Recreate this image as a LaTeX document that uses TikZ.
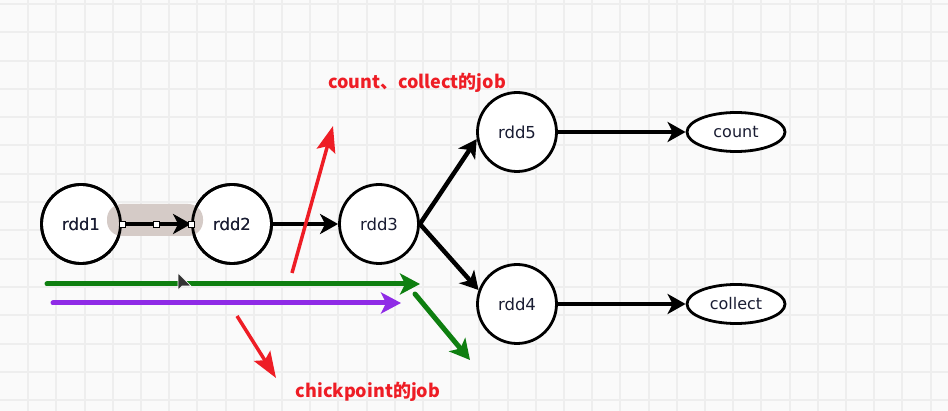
\documentclass[tikz,border=0pt]{standalone}
\usepackage{fontspec}
\setmainfont{DejaVu Sans}
\newfontfamily\cjk{Noto Sans CJK SC}
\usetikzlibrary{arrows.meta,shapes.geometric,calc}
\definecolor{bgc}{HTML}{FAFAFA}
\definecolor{gridc}{HTML}{EEEEEE}
\definecolor{redc}{HTML}{EE1D25}
\definecolor{greenc}{HTML}{0E7F10}
\definecolor{purplec}{HTML}{8F2BE6}
\definecolor{hlc}{HTML}{D5CBC7}
\definecolor{txtc}{HTML}{1A1D33}
\begin{document}
\begin{tikzpicture}[x=1pt,y=-1pt,
  rddnode/.style={circle,draw=black,line width=2.8pt,fill=white,minimum size=79pt,inner sep=0pt,
    text=txtc,font=\fontsize{16.5}{16.5}\selectfont},
  opnode/.style={ellipse,draw=black,line width=2.8pt,fill=white,minimum width=98pt,minimum height=39pt,inner sep=0pt,
    text=txtc,font=\fontsize{16}{16}\selectfont},
  blk/.style={draw=black,line width=4.5pt,-{Stealth[length=18pt,width=20pt,inset=5pt]}},
  grn/.style={draw=greenc,line width=5pt,line cap=round,-{Stealth[length=20pt,width=21pt,inset=5pt]}},
  prp/.style={draw=purplec,line width=5pt,line cap=round,-{Stealth[length=20pt,width=21pt,inset=5pt]}},
  redarr/.style={draw=redc,line width=3.5pt,-{Stealth[length=26pt,width=19pt,inset=5pt]}},
  handle/.style={draw=black,fill=white,line width=0.8pt,minimum size=6pt,inner sep=0pt,rectangle},
  redtxt/.style={text=redc,font=\cjk\bfseries\fontsize{18}{18}\selectfont},
  outline/.style={draw=black,line width=2.8pt}
]
\fill[bgc] (0,0) rectangle (948,411);
\useasboundingbox (0,0) rectangle (948,411);
\foreach \i in {1,...,33} \draw[gridc,line width=2pt] (\i*28.2,0) -- (\i*28.2,411);
\foreach \j in {0,...,14} \draw[gridc,line width=2pt] (0,4+\j*28.3) -- (948,4+\j*28.3);

% nodes
\node[rddnode] (rdd1) at (81,224) {rdd1};
\node[rddnode] (rdd2) at (232,224) {rdd2};
\node[rddnode] (rdd3) at (379,224) {rdd3};
\node[rddnode] (rdd5) at (517,132) {rdd5};
\node[rddnode] (rdd4) at (517,304) {rdd4};
\node[opnode] (count) at (736,132) {count};
\node[opnode] (collect) at (736,304) {collect};

% selection highlight
\fill[hlc,rounded corners=15pt] (107,204) rectangle (203,236);
\draw[outline] (rdd1.center) circle[radius=39.5pt];
\draw[outline] (rdd2.center) circle[radius=39.5pt];
\node[txtc,font=\fontsize{16.5}{16.5}\selectfont] (t1) at (rdd1.center) {rdd1};
\node[txtc,font=\fontsize{16.5}{16.5}\selectfont] (t2) at (rdd2.center) {rdd2};

% black connectors
\draw[blk] (rdd1) -- (rdd2);
\node[handle] (h1) at (rdd1.east) {};
\node[handle] (h2) at ($(rdd1.east)!0.5!(rdd2.west)$) {};
\node[handle] (h3) at (rdd2.west) {};
\draw[blk] (rdd2) -- (rdd3);
\draw[blk] (rdd3.east) -- (rdd5.190);
\draw[blk] (rdd3.east) -- (rdd4.160);
\draw[blk] (rdd5) -- (count);
\draw[blk] (rdd4) -- (collect);

% coloured annotation arrows
\coordinate (g1) at (47,284);
\coordinate (g2) at (420,284);
\coordinate (g3) at (415,294);
\coordinate (g4) at (470,360);
\coordinate (p1) at (53,303);
\coordinate (p2) at (401,303);
\coordinate (r1) at (292,273);
\coordinate (r2) at (333,126);
\coordinate (r3) at (237,316);
\coordinate (r4) at (276,378);
\draw[grn] (g1) -- (g2);
\draw[grn] (g3) -- (g4);
\draw[prp] (p1) -- (p2);
\draw[redarr] (r1) -- (r2);
\draw[redarr] (r3) -- (r4);

% mouse cursor
\fill[black!80,draw=white,line width=0.6pt] (178,273) -- (178,290) -- (182,286) -- (191,286) -- cycle;

% labels
\node[redtxt] (lab1) at (417,83) {count、collect的job};
\node[redtxt] (lab2) at (368,392) {chickpoint的job};
\end{tikzpicture}
\end{document}
